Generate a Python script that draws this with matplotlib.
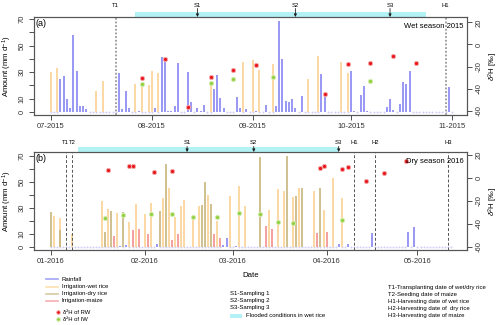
import datetime as dt
import numpy as np
import matplotlib
matplotlib.use('Agg')
import matplotlib.pyplot as plt
import matplotlib.dates as mdates
from matplotlib.lines import Line2D
from matplotlib.patches import Rectangle
from matplotlib.transforms import blended_transform_factory

plt.rcParams['font.family'] = ['Liberation Sans', 'DejaVu Sans']
plt.rcParams['mathtext.fontset'] = 'custom'
plt.rcParams['mathtext.rm'] = 'Liberation Sans'
plt.rcParams['mathtext.it'] = 'Liberation Sans:italic'

# ---------- wet season 2015 ----------
rain15_days = ['07-04', '07-05', '07-06', '07-07', '07-08', '07-09', '07-10', '07-11', '07-12',
               '07-22', '07-23', '07-24', '07-25', '07-28', '08-02', '08-04', '08-05', '08-06',
               '08-07', '08-08', '08-09', '08-12', '08-13', '08-15', '08-16', '08-17', '08-20',
               '08-21', '08-22', '08-23', '08-27', '08-28', '08-30', '09-02', '09-05', '09-08',
               '09-09', '09-10', '09-11', '09-12', '09-13', '09-14', '09-16', '09-22', '09-23',
               '10-01', '10-02', '10-04', '10-05', '10-06', '10-12', '10-13', '10-14', '10-16',
               '10-17', '10-18', '10-19', '10-31']
rain15_mm = [25, 27, 10, 3, 58, 31, 4.5, 4.5, 2.5,
             29, 2.5, 16, 3, 1, 3, 41, 39.5, 1,
             1, 4.5, 36.5, 30, 7.5, 3, 1, 5.5, 17.5,
             28, 10.5, 3, 11, 3, 2, 1, 5, 4.5,
             68.5, 40, 8.5, 7.5, 10, 3, 12, 28.5, 12,
             31, 1, 13, 19.5, 1, 3.5, 10, 1.5, 6,
             22.5, 21, 30.5, 19]
rain15_period = ('07-01', '11-01')

wet15_days = ['07-01', '07-03', '07-15', '07-17', '07-27', '07-29', '07-31', '08-01', '08-03',
              '08-19', '08-29', '09-01', '09-03', '09-07', '09-18', '09-21', '09-28', '09-30']
wet15_mm = [30, 33, 15.5, 23, 21, 20, 20, 31, 29.5,
            21.5, 37.5, 39, 31.5, 36, 24.8, 42, 37.5, 29]

rw15_days = ['07-29', '08-05', '08-12', '08-19', '08-26', '09-02', '09-23', '09-30', '10-07',
             '10-14', '10-21']
rw15_d2h = [-30, -13, -56, -29.3, -23.3, -18.5, -45, -17.6, -16.7, -10.4, -16.7]
iw15_days = ['07-29', '08-19', '08-26', '09-07', '10-07']
iw15_d2h = [-35.9, -34.8, -30.9, -29.3, -33]

events15 = [('T1', '07-21'), ('H1', '10-30')]
samples15 = [('S1', '08-15'), ('S2', '09-14'), ('S3', '10-13')]
flood15 = ('07-27', '10-24')

# ---------- dry season 2016 ----------
rain16_days = ['01-24', '01-26', '02-05', '02-27', '02-28', '03-02', '04-05', '04-08', '04-16',
               '04-28', '04-30']
rain16_mm = [1, 1.5, 2.5, 1.5, 7, 1, 2.3, 2, 10.8, 11.8, 15.6]
rain16_period = ('01-01', '05-12')

wet16_days = ['01-02', '01-04', '01-08', '01-18', '01-20', '01-23', '01-27', '01-29', '02-01',
              '02-03', '02-07', '02-09', '02-11', '02-13', '02-14', '02-17', '02-19', '02-22',
              '02-25', '02-29', '03-03', '03-05', '03-13', '03-16', '03-18', '03-21', '03-23',
              '03-28', '03-31', '04-03', '04-06']
wet16_mm = [24, 22, 10, 35, 29, 26, 19.5, 33, 25,
            34, 37.7, 45, 23, 31.5, 36, 22.8, 31.5, 40,
            19.8, 39, 46.7, 31.3, 28.7, 44.6, 43.3, 38.5, 45,
            42.8, 28.5, 53, 37.7]

dry16_days = ['01-01', '01-04', '01-19', '01-21', '01-25', '02-06', '02-08', '02-20', '02-21',
              '02-23', '03-10', '03-19', '03-22', '03-24', '03-30']
dry16_mm = [27, 13, 11.5, 27.7, 27, 27.7, 64, 32.3, 49.7,
            33.3, 69, 70, 39.5, 45, 45.6]

maize16_days = ['01-22', '01-28', '01-30', '02-02', '02-10', '02-12', '02-24', '02-26', '03-12',
                '03-14', '03-29', '04-01']
maize16_mm = [8.7, 13.3, 13.6, 10, 5.4, 10, 9.8, 6.7, 16, 13.8, 10.5, 11.3]

rw16_days = ['01-20', '01-27', '01-28', '02-04', '02-10', '03-30', '03-31', '04-06', '04-08',
             '04-14', '04-20']
rw16_d2h = [7, 10.4, 10.4, 5, 6, 9, 10.7, 7.5, 9.8, -2.3, 4]
iw16_days = ['01-19', '01-25', '02-03', '02-10', '02-17', '02-25', '03-03', '03-10', '03-16',
             '03-21', '04-06']
iw16_d2h = [-34.8, -32, -31, -31, -34, -33.6, -30.5, -31, -38.5, -39.4, -36.8]

events16 = [('T1', '01-06'), ('T2', '01-08'), ('H1', '04-10'), ('H2', '04-17'), ('H3', '05-11')]
samples16 = [('S1', '02-15'), ('S2', '03-08'), ('S3', '04-05')]
flood16 = ('01-10', '04-05')

C_RAIN = '#7c7cf2'
C_WET = '#fcd190'
C_DRY = '#c4b37a'
C_MAIZE = '#f38c8c'
C_RW = '#e8161c'
C_IW = '#93d041'
C_FLOOD = '#b2f1f4'


def to_dates(year, days):
    return [dt.datetime(year, int(s[:2]), int(s[3:])) for s in days]


def to_num(year, day):
    return mdates.date2num(to_dates(year, [day])[0])


def daily(year, days, mm, period):
    d0, d1 = to_dates(year, period)
    n = (d1 - d0).days + 1
    dates = np.array([d0 + dt.timedelta(days=i) for i in range(n)])
    vals = np.zeros(n)
    for d, v in zip(to_dates(year, days), mm):
        vals[(d - d0).days] = v
    return dates, vals


def style_axis(ax):
    for s in ax.spines.values():
        s.set_color('#555555')
        s.set_linewidth(0.8)
    ax.tick_params(direction='out', length=3.6, width=0.6, colors='#333333',
                   labelsize=5.5, pad=2.5)


def draw_panel(ax, year, rain, irrig, rw, iw, events, ev_style, samples, flood,
               xlim, ylim, y2lim, tag, lab_y):
    dates, vals = daily(year, *rain)
    wet = vals > 0
    ax.plot(dates[~wet], vals[~wet], 'o', ms=1.4, mew=0, color='#cfcff8', zorder=1)
    ax.vlines(dates[wet], 0, vals[wet], color=C_RAIN, lw=1.3, alpha=0.85, zorder=2)
    for days, mm, c in irrig:
        ax.vlines(to_dates(year, days), 0, mm, color=c, lw=1.3, alpha=0.9, zorder=3)

    trans = blended_transform_factory(ax.transData, ax.transAxes)
    for lab, day in events:
        x = to_num(year, day)
        ax.axvline(x, zorder=4, **ev_style)
        ax.text(x, lab_y, lab, transform=trans, ha='center', va='center',
                fontsize=4.2, clip_on=False)

    f0, f1 = to_num(year, flood[0]), to_num(year, flood[1])
    ax.add_patch(Rectangle((f0, 1.0), f1 - f0, 0.05, transform=trans, color=C_FLOOD,
                           lw=0, clip_on=False, zorder=1))
    for lab, day in samples:
        x = to_num(year, day)
        ax.text(x, lab_y, lab, transform=trans, ha='center', va='center',
                fontsize=4.2, clip_on=False)
        ax.annotate('', xy=(x, 1.0), xycoords=trans, xytext=(x, lab_y - 0.035),
                    textcoords=trans,
                    arrowprops=dict(arrowstyle='-|>', color='#222222', lw=0.6,
                                    mutation_scale=4, shrinkA=0, shrinkB=0))

    ax.set_xlim(*xlim)
    ax.set_ylim(*ylim)
    ax.xaxis.set_major_locator(mdates.MonthLocator())
    ax.xaxis.set_major_formatter(mdates.DateFormatter('%m-%Y'))
    ax.set_yticks(range(0, 71, 10))
    ax.set_yticklabels(['0', '10', '', '30', '', '50', '', '70'], rotation=90, va='center')
    ax.set_ylabel('Amount (mm d$^{-1}$)', fontsize=5.6)
    ax.yaxis.set_label_coords(-0.047, 0.5)
    ax.text(0.004, 0.93, tag, transform=ax.transAxes, fontsize=6.5, va='center')
    style_axis(ax)

    ax2 = ax.twinx()
    ax2.plot(to_dates(year, rw[0]), rw[1], 'o', ms=3, mfc=C_RW, mec='#f5a5a5', mew=0.7)
    ax2.plot(to_dates(year, iw[0]), iw[1], 'o', ms=3, mfc=C_IW, mec='#d3ecb0', mew=0.7)
    ax2.set_ylim(*y2lim)
    ax2.set_yticks([-60, -40, -20, 0, 20])
    ax2.set_yticklabels(['-60', '-40', '-20', '0', '20'], rotation=90, va='center')
    ax2.set_ylabel(r'$\delta^2$H [‰]', fontsize=5.6, rotation=90)
    ax2.yaxis.set_label_coords(1.046, 0.5)
    style_axis(ax2)
    return ax2


fig = plt.figure(figsize=(5, 3.25), dpi=100)
axa = fig.add_axes([0.068, 0.6462, 0.866, 0.3015])
axb = fig.add_axes([0.068, 0.2308, 0.866, 0.3015])

dotted = dict(color='#888888', lw=1.1, ls=(0, (1.2, 1.2)))
dashed = dict(color='#555555', lw=0.7, ls=(0, (3, 2)))

axa2 = draw_panel(axa, 2015, (rain15_days, rain15_mm, rain15_period),
                  [(wet15_days, wet15_mm, C_WET)],
                  (rw15_days, rw15_d2h), (iw15_days, iw15_d2h),
                  events15, dotted, samples15, flood15,
                  (dt.datetime(2015, 6, 25, 22), dt.datetime(2015, 11, 5, 14)),
                  (-2.3, 71.5), (-63.6, 24.8), '(a)', 1.122)
axa2.text(0.993, 0.908, 'Wet season 2015', transform=axa2.transAxes, ha='right',
          va='center', fontsize=5.5)

axb2 = draw_panel(axb, 2016, (rain16_days, rain16_mm, rain16_period),
                  [(wet16_days, wet16_mm, C_WET), (dry16_days, dry16_mm, C_DRY),
                   (maize16_days, maize16_mm, C_MAIZE)],
                  (rw16_days, rw16_d2h), (iw16_days, iw16_d2h),
                  events16, dashed, samples16, flood16,
                  (dt.datetime(2015, 12, 26, 12), dt.datetime(2016, 5, 17, 8)),
                  (-2.3, 73), (-62.6, 22.6), '(b)', 1.092)
axb2.plot([0.859], [0.908], 'o', ms=3, mfc=C_RW, mec='#f5a5a5', mew=0.7,
          transform=axb2.transAxes, clip_on=False)
axb2.text(0.993, 0.908, 'Dry season 2016', transform=axb2.transAxes, ha='right',
          va='center', fontsize=5.5)

fig.text(0.502, 0.1508, 'Date', ha='center', va='center', fontsize=5.6)

# legend, left block
leg_lines = [('Rainfall', C_RAIN), ('Irrigation-wet rice', C_WET),
             ('Irrigation-dry rice', C_DRY), ('Irrigation-maize', C_MAIZE)]
for i, (lab, c) in enumerate(leg_lines):
    y = 1 - (279.3 + 7.2 * i) / 325
    fig.add_artist(Line2D([0.092, 0.116], [y, y], color=c, lw=1.2, alpha=0.7,
                          transform=fig.transFigure))
    fig.text(0.124, y, lab, fontsize=4.3, va='center')
for i, (lab, c, ec) in enumerate([('δ²H of RW', C_RW, '#f5a5a5'),
                                  ('δ²H of IW', C_IW, '#d3ecb0')]):
    y = 1 - (312.0 + 7.2 * i) / 325
    fig.add_artist(Line2D([0.1166], [y], marker='o', ms=2.6, mfc=c, mec=ec, mew=0.6,
                          transform=fig.transFigure))
    fig.text(0.126, y, lab, fontsize=4.2, va='center')

# legend, middle block
for i, lab in enumerate(['S1-Sampling 1', 'S2-Sampling 2', 'S3-Sampling 3']):
    fig.text(0.46, 1 - (293.3 + 7.3 * i) / 325, lab, fontsize=4.3, va='center')
fig.add_artist(Rectangle((0.459, 0.0206), 0.0244, 0.0123, color=C_FLOOD, lw=0,
                         transform=fig.transFigure))
fig.text(0.492, 0.0277, 'Flooded conditions in wet rice', fontsize=4.3, va='center')

# legend, right block
notes = ['T1-Transplanting date of wet/dry rice', 'T2-Seeding date of maize',
         'H1-Harvesting date of wet rice', 'H2-Harvesting date of  dry rice',
         'H3-Harvesting date of maize']
for i, lab in enumerate(notes):
    fig.text(0.776, 1 - (287.3 + 7.0 * i) / 325, lab, fontsize=4.3, va='center')

fig.savefig('out.png', dpi=100)
